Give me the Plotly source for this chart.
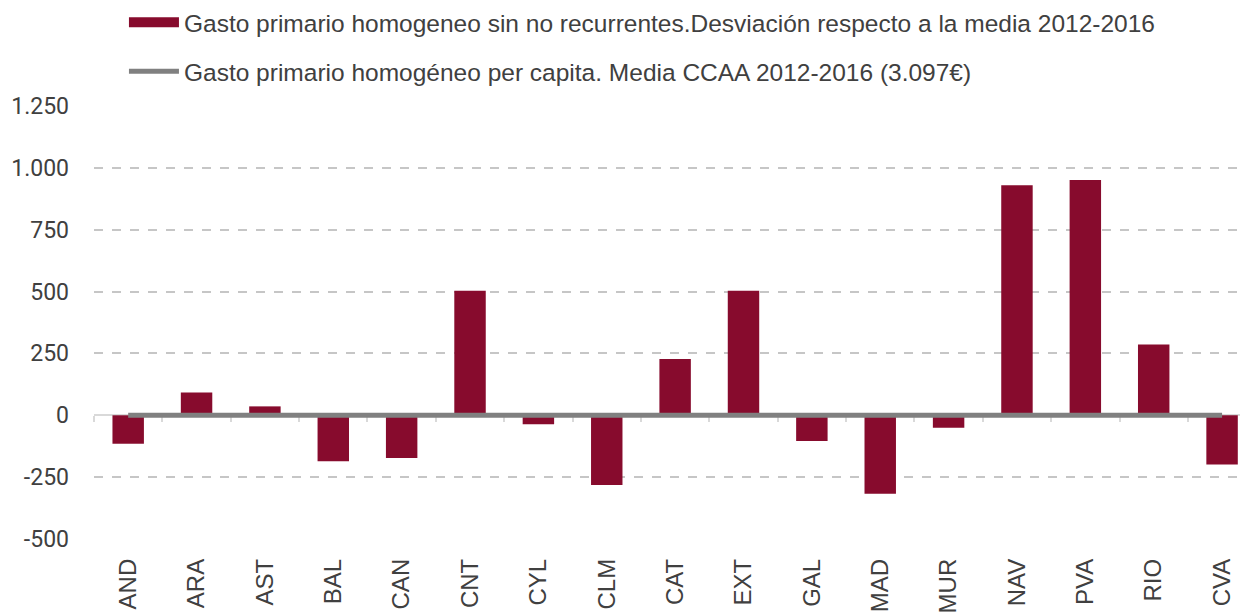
import plotly.graph_objects as go

categories = ["AND", "ARA", "AST", "BAL", "CAN", "CNT", "CYL", "CLM", "CAT",
              "EXT", "GAL", "MAD", "MUR", "NAV", "PVA", "RIO", "CVA"]
desviacion = [-115, 92, 36, -186, -173, 503, -36, -282, 227,
              503, -104, -317, -50, 930, 951, 286, -199]
media = [0] * len(categories)
y_ticks = [-500, -250, 0, 250, 500, 750, 1000, 1250]
y_tick_labels = ["-500", "-250", "0", "250", "500", "750", "1.000", "1.250"]

name_bar = "Gasto primario homogeneo sin no recurrentes.Desviación respecto a la media 2012-2016"
name_line = "Gasto primario homogéneo per capita. Media CCAA 2012-2016 (3.097€)"

BAR_COLOR = "#870b2d"
LINE_COLOR = "#808080"

idx = list(range(len(categories)))

fig = go.Figure()
fig.add_trace(go.Bar(x=idx, y=desviacion, name=name_bar, width=0.46,
                     marker=dict(color=BAR_COLOR, line=dict(width=0)),
                     showlegend=False))
# legend entry for the bars, drawn as a wide swatch
fig.add_trace(go.Scatter(x=[None], y=[None], name=name_bar, mode="lines",
                         line=dict(color=BAR_COLOR, width=14),
                         legendgroup="a"))
fig.add_trace(go.Scatter(x=idx, y=media, name=name_line, mode="lines",
                         line=dict(color=LINE_COLOR, width=5),
                         xaxis="x2", legendgroup="b"))

xr = [-0.5, 16.35]
fig.update_layout(
    width=1240, height=606,
    margin=dict(l=86, r=2, t=98, b=75, autoexpand=False),
    paper_bgcolor="white", plot_bgcolor="white",
    separators=",.",
    showlegend=True,
    legend=dict(orientation="v", x=0.026, xanchor="left", y=1.028, yanchor="bottom",
                font=dict(family="Liberation Sans", size=24.5, color="#404040"),
                tracegroupgap=14, itemwidth=50, bgcolor="rgba(0,0,0,0)"),
    xaxis=dict(range=xr, tickmode="array", tickvals=idx, ticktext=categories,
               tickangle=-90, ticks="", showgrid=False, zeroline=False, showline=False,
               tickfont=dict(family="Liberation Sans", size=24, color="#404040"),
               ticklabelstandoff=14),
    xaxis2=dict(range=xr, overlaying="x", anchor="free", position=500/1750,
                side="bottom", showline=True, linecolor="#d9d9d9", linewidth=1.5,
                ticks="outside", ticklen=6, tickcolor="#d9d9d9", tickwidth=1.5,
                tickmode="array", tickvals=[i + 0.5 for i in range(-1, 17)],
                showticklabels=False, showgrid=False, zeroline=False,
                layer="below traces"),
    yaxis=dict(range=[-500, 1250], tickmode="array", tickvals=y_ticks,
               ticktext=y_tick_labels, showgrid=True, gridcolor="#c6c6c6", gridwidth=1.5,
               griddash="dash", zeroline=False, showline=False, ticks="",
               tickfont=dict(family="Roboto", size=23, color="#404040"),
               ticklabelstandoff=24),
)
fig.write_html("out.html")
